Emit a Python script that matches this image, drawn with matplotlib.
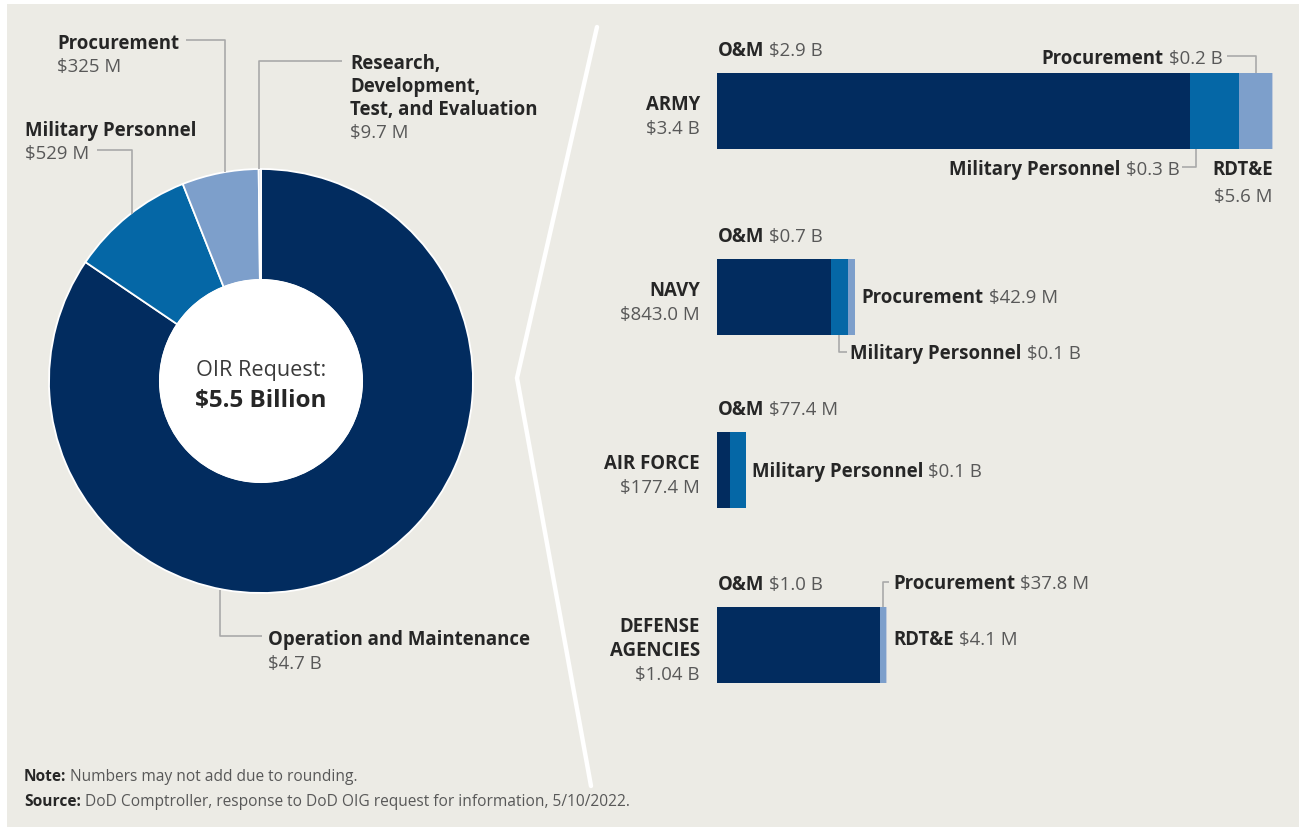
import matplotlib
matplotlib.use("Agg")
import matplotlib.pyplot as plt
from matplotlib.patches import Rectangle, Circle
import numpy as np

# ---------------- data ----------------
donut_labels = ["Operation and Maintenance", "Military Personnel", "Procurement",
                "Research, Development, Test, and Evaluation"]
donut_values = [4700.0, 529.0, 325.0, 9.7]          # $ millions
donut_value_text = ["$4.7 B", "$529 M", "$325 M", "$9.7 M"]

agencies = ["ARMY", "NAVY", "AIR FORCE", "DEFENSE\nAGENCIES"]
agency_totals = ["$3.4 B", "$843.0 M", "$177.4 M", "$1.04 B"]
om = [2.9, 0.7, 0.0774, 1.0]                # $ billions
milpers = [0.3, 0.1, 0.1, 0.0]
procurement = [0.2, 0.0429, 0.0, 0.0378]
rdte = [0.0056, 0.0, 0.0, 0.0041]
om_text = ["$2.9 B", "$0.7 B", "$77.4 M", "$1.0 B"]
milpers_text = ["$0.3 B", "$0.1 B", "$0.1 B", ""]
proc_text = ["$0.2 B", "$42.9 M", "", "$37.8 M"]
rdte_text = ["$5.6 M", "", "", "$4.1 M"]

note_text = "Numbers may not add due to rounding."
source_text = "DoD Comptroller, response to DoD OIG request for information, 5/10/2022."

# ---------------- style ----------------
W, H = 1299, 838
BG = "#ecebe5"
NAVY = "#022c5f"
MED = "#0567a6"
LIGHT = "#7d9fcb"
RDTE_C = "#bfcadb"
DARK = "#262626"
GRAY = "#585858"
LEAD = "#a9a9a9"
FONT = ["Open Sans", "DejaVu Sans"]
FS = 13.4

plt.rcParams["font.family"] = FONT

fig = plt.figure(figsize=(W / 100, H / 100), dpi=100, facecolor="white")
# beige panel as a figure-level patch (pixel coords)
fig.patches.append(Rectangle((7, H - 827), W - 7, 823, transform=None,
                             color=BG, lw=0, zorder=0))

# overlay axes for texts and leader lines (drawn on top)
ax0 = fig.add_axes([0, 0, 1, 1], zorder=10)
ax0.set_xlim(0, W)
ax0.set_ylim(H, 0)
ax0.axis("off")
ax0.patch.set_alpha(0)

renderer = fig.canvas.get_renderer()


def txt(x, y, s, bold=False, color=None, ha="left", size=FS, ax=ax0):
    """y is visual center of the capitals"""
    base = y + size * 100 / 72 * 0.36
    return ax.text(x, base, s, ha=ha, va="baseline", fontsize=size,
                   fontweight="bold" if bold else "normal",
                   color=color if color else (DARK if bold else GRAY), zorder=5)


def width(t):
    return t.get_window_extent(renderer).width


def mixed(x, y, b, r, ha="left", size=FS, gap=5, rcolor=GRAY):
    if ha == "left":
        t1 = txt(x, y, b, bold=True, size=size)
        w = width(t1)
        txt(x + w + gap, y, r, size=size, color=rcolor)
    else:
        t2 = txt(x, y, r, ha="right", size=size, color=rcolor)
        w = width(t2)
        txt(x - w - gap, y, b, bold=True, ha="right", size=size)


def lead(xs, ys):
    ax0.plot(xs, ys, color=LEAD, lw=1.2, solid_capstyle="butt", zorder=3)


# ---------------- donut ----------------
cx, cy, R = 261, 381, 212
axd = fig.add_axes([(cx - R) / W, 1 - (cy + R) / H, 2 * R / W, 2 * R / H], zorder=2)
axd.pie(donut_values, colors=[NAVY, MED, LIGHT, RDTE_C], startangle=90,
        counterclock=False, radius=1.0,
        wedgeprops=dict(width=0.524, edgecolor="white", linewidth=1.3))
axd.add_patch(Circle((0, 0), 0.478, color="white", zorder=4))
axd.set_xlim(-1, 1)
axd.set_ylim(-1, 1)
axd.axis("off")

txt(cx, 368, "OIR Request:", size=15.6, color="#3a3a3a", ha="center")
txt(cx, 398, "$5.5 Billion", bold=True, size=17.5, color=DARK, ha="center")

# Procurement
txt(57, 42, "Procurement", bold=True)
txt(57, 65, donut_value_text[2])
lead([186, 225, 225], [40, 40, 172])
# RDT&E
for i, s in enumerate(["Research,", "Development,", "Test, and Evaluation"]):
    txt(350, 62 + 23 * i, s, bold=True)
txt(350, 131, donut_value_text[3])
lead([342, 259, 259], [61, 61, 169])
# Military Personnel
txt(25, 129, "Military Personnel", bold=True)
txt(25, 152, donut_value_text[1])
lead([97, 132, 132], [150, 150, 214])
# O&M
txt(268, 638, "Operation and Maintenance", bold=True)
txt(268, 662, donut_value_text[0])
lead([220, 220, 262], [590, 636, 636])

# divider chevron
ax0.plot([597, 517, 591], [27, 378, 786], color="white", lw=3.2,
         solid_capstyle="round", solid_joinstyle="miter", zorder=2)

# ---------------- bars ----------------
X0 = 717
PXB = 163.2
axb = fig.add_axes([X0 / W, 0, (W - X0) / W, 1], zorder=2)
axb.set_xlim(0, (W - X0) / PXB)
axb.set_ylim(H, 0)
axb.axis("off")
axb.patch.set_alpha(0)

centers = [111, 297, 470, 645]
BH = 76
left = np.zeros(4)
for vals, col in [(om, NAVY), (milpers, MED), (procurement, LIGHT), (rdte, RDTE_C)]:
    v = np.array(vals)
    axb.barh(centers, v, left=left, height=BH, color=col, lw=0)
    left = left + v
totals = left


def xpx(v):
    return X0 + v * PXB


for i, c in enumerate(centers):
    names = agencies[i].split("\n")
    ty = c + 4 + 12 * len(names)
    for k, nm in enumerate(reversed(names)):
        txt(700, ty - 24 * (k + 1), nm, bold=True, ha="right")
    txt(700, ty, agency_totals[i], ha="right")
    mixed(718, c - 62, "O&M", om_text[i])

top = [c - BH / 2 for c in centers]
bot = [c + BH / 2 for c in centers]

# Army
i = 0
lx = xpx(om[i] + milpers[i] + procurement[i] / 2)
lead([lx - 29, lx, lx], [56, 56, top[i]])
mixed(lx - 33, 57, "Procurement", proc_text[i], ha="right")
lx = xpx(om[i]) + 6
lead([lx - 14, lx, lx], [167, 167, bot[i]])
mixed(lx - 17, 168, "Military Personnel", milpers_text[i], ha="right")
txt(xpx(totals[i]), 168, "RDT&E", bold=True, ha="right")
txt(xpx(totals[i]), 195, rdte_text[i], ha="right")

# Navy
i = 1
mixed(xpx(totals[i]) + 7, centers[i] - 1, "Procurement", proc_text[i])
lx = xpx(om[i] + milpers[i] / 2)
lead([lx, lx, lx + 8], [bot[i], 352, 352])
mixed(lx + 11, 352, "Military Personnel", milpers_text[i])

# Air Force
i = 2
mixed(xpx(totals[i]) + 6, centers[i], "Military Personnel", milpers_text[i])

# Defense agencies
i = 3
lx = xpx(om[i] + procurement[i] / 2)
lead([lx, lx, lx + 6], [top[i], 582, 582])
mixed(893, 582, "Procurement", proc_text[i])
mixed(893, 638, "RDT&E", rdte_text[i])

# ---------------- notes ----------------
mixed(24, 775, "Note:", note_text, size=11.2, gap=4)
mixed(24, 800, "Source:", source_text, size=11.2, gap=4)

fig.savefig("out.png", dpi=100, facecolor="white")
